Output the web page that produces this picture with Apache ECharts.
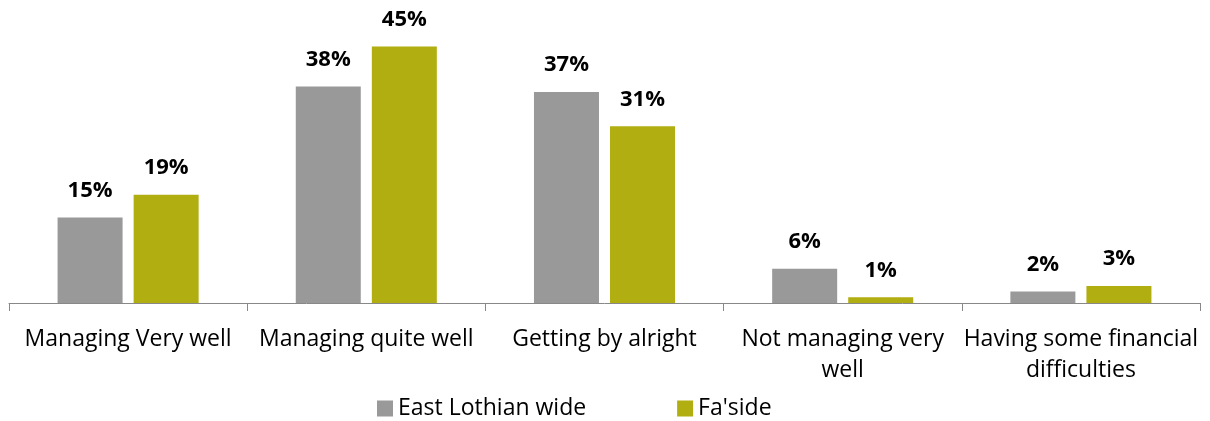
<!DOCTYPE html>
<html>
<head>
<meta charset="utf-8">
<script src="https://cdn.jsdelivr.net/npm/echarts@6/dist/echarts.min.js"></script>
<style>
html, body { margin: 0; padding: 0; background: #fff; }
#chart { width: 1210px; height: 421px; }
</style>
</head>
<body>
<div id="chart"></div>
<script>
var categories = ['Managing Very well', 'Managing quite well', 'Getting by alright', 'Not managing very\nwell', 'Having some financial\ndifficulties'];
var eastLothian = [15, 38, 37, 6, 2];
var fasideVals = [19, 45, 31, 1, 3];
var seriesNames = ['East Lothian wide', "Fa'side"];

var chart = echarts.init(document.getElementById('chart'));
var font = '"Open Sans", "Liberation Sans", sans-serif';

// 柱子上方的百分比标签
var labelStyle = {
	show: true,
	position: 'top',
	distance: 16,
	formatter: '{c}%',
	fontFamily: font,
	fontWeight: 'bold',
	fontSize: 22,
	color: '#000'
};

var option = {
	animation: false,
	grid: { left: 9, right: 10, top: 18, bottom: 118 },
	legend: {
		bottom: 1,
		left: 377,
		padding: 0,
		itemWidth: 16,
		itemHeight: 16,
		itemGap: 91,
		icon: 'rect',
		textStyle: { fontFamily: font, fontSize: 23, color: '#000' },
		data: seriesNames
	},
	xAxis: {
		type: 'category',
		data: categories,
		axisLine: { lineStyle: { color: '#888', width: 1 } },
		axisTick: { show: true, length: 8, lineStyle: { color: '#888' } },
		axisLabel: {
			margin: 21,
			fontFamily: font,
			fontSize: 23,
			lineHeight: 31,
			color: '#000',
			interval: 0
		}
	},
	yAxis: {
		type: 'value',
		min: 0,
		max: 50,
		show: false
	},
	series: [{
		name: seriesNames[0],
		type: 'bar',
		data: eastLothian,
		barWidth: 65,
		barGap: '17%',
		itemStyle: { color: '#999999' },
		label: labelStyle
	}, {
		name: seriesNames[1],
		type: 'bar',
		data: fasideVals,
		barWidth: 65,
		itemStyle: { color: '#b0ae10' },
		label: labelStyle
	}]
};

chart.setOption(option);
</script>
</body>
</html>
